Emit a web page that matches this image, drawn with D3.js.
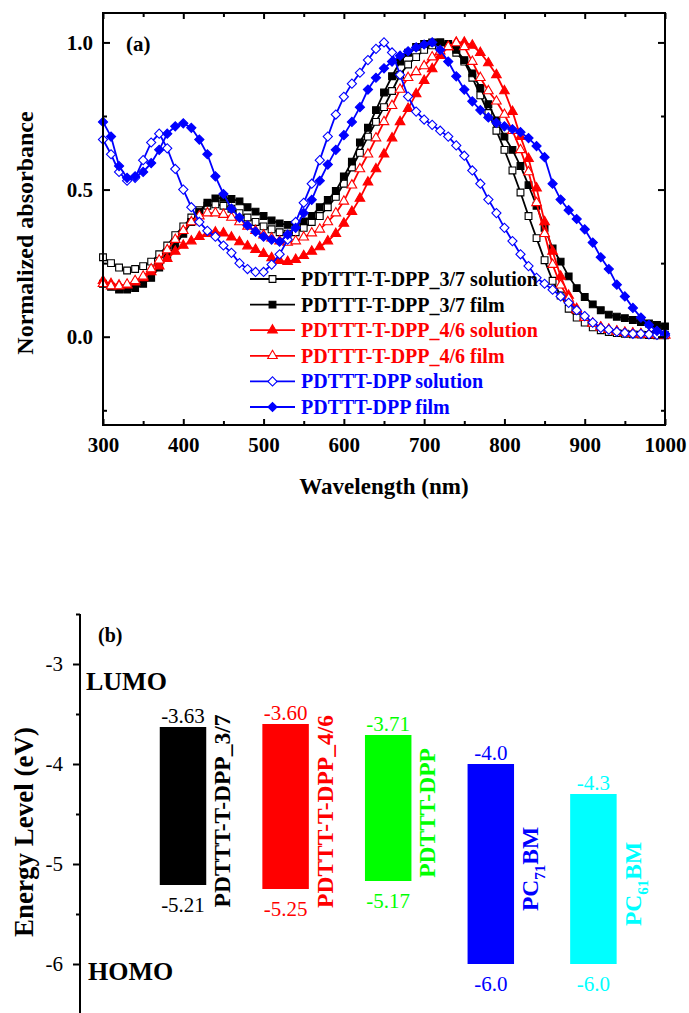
<!DOCTYPE html>
<html>
<head>
<meta charset="utf-8">
<script src="https://cdn.jsdelivr.net/npm/d3@7"></script>
<style>
  html, body { margin: 0; padding: 0; background: #fff; }
  svg { display: block; }
  text { font-family: "Liberation Serif", "Times New Roman", serif; }
</style>
</head>
<body>
<svg id="chart" width="689" height="1013"></svg>
<script>
// ---------------- DATA: panel (a) ----------------
const wavelengths = d3.range(300, 1001, 10);

const blackSolution = [0.27,0.25,0.235,0.225,0.23,0.24,0.255,0.28,0.31,0.345,
  0.375,0.405,0.43,0.445,0.45,0.445,0.435,0.42,0.405,0.39,
  0.375,0.365,0.355,0.35,0.355,0.37,0.39,0.41,0.44,0.475,
  0.52,0.575,0.625,0.68,0.73,0.78,0.835,0.89,0.925,0.95,
  0.975,0.99,1.0,0.99,0.965,0.935,0.88,0.82,0.76,0.70,
  0.635,0.565,0.49,0.41,0.335,0.26,0.19,0.14,0.095,0.065,
  0.048,0.032,0.022,0.016,0.012,0.01,0.008,0.007,0.006,0.005,0.005];

const blackFilm = [0.18,0.17,0.16,0.16,0.165,0.18,0.20,0.235,0.27,0.31,
  0.35,0.39,0.425,0.455,0.47,0.472,0.468,0.46,0.44,0.425,
  0.41,0.395,0.385,0.38,0.383,0.392,0.41,0.44,0.465,0.495,
  0.545,0.595,0.66,0.71,0.77,0.83,0.885,0.935,0.965,0.985,
  0.995,1.0,1.0,0.995,0.975,0.94,0.895,0.845,0.79,0.735,
  0.68,0.635,0.58,0.515,0.445,0.37,0.30,0.255,0.205,0.165,
  0.135,0.11,0.09,0.075,0.068,0.063,0.057,0.05,0.045,0.04,0.035];

const redSolution = [0.19,0.18,0.175,0.175,0.185,0.20,0.22,0.24,0.265,0.29,
  0.31,0.325,0.34,0.35,0.355,0.352,0.338,0.322,0.308,0.296,
  0.282,0.268,0.258,0.255,0.262,0.275,0.29,0.305,0.325,0.35,
  0.385,0.425,0.47,0.525,0.57,0.62,0.675,0.73,0.775,0.825,
  0.87,0.91,0.955,0.985,1.0,1.0,0.99,0.965,0.93,0.89,
  0.835,0.765,0.68,0.605,0.505,0.39,0.29,0.205,0.14,0.095,
  0.065,0.045,0.032,0.024,0.018,0.014,0.011,0.009,0.007,0.006,0.005];

const redFilm = [0.18,0.172,0.172,0.178,0.19,0.205,0.23,0.26,0.295,0.33,
  0.36,0.39,0.41,0.42,0.42,0.415,0.405,0.39,0.375,0.36,
  0.345,0.335,0.325,0.32,0.325,0.338,0.352,0.365,0.39,0.42,
  0.46,0.515,0.57,0.62,0.675,0.73,0.785,0.84,0.88,0.90,
  0.92,0.95,0.97,0.985,0.998,0.985,0.935,0.88,0.835,0.80,
  0.755,0.70,0.635,0.56,0.455,0.35,0.245,0.175,0.13,0.09,
  0.065,0.045,0.032,0.024,0.018,0.014,0.011,0.009,0.007,0.006,0.005];

const blueSolution = [0.67,0.62,0.56,0.53,0.54,0.60,0.66,0.69,0.64,0.57,
  0.50,0.44,0.39,0.36,0.34,0.31,0.285,0.25,0.23,0.22,
  0.22,0.245,0.28,0.33,0.39,0.455,0.52,0.60,0.68,0.755,
  0.815,0.86,0.897,0.94,0.978,1.0,0.966,0.89,0.816,0.765,
  0.738,0.72,0.70,0.68,0.65,0.615,0.565,0.52,0.466,0.42,
  0.37,0.325,0.28,0.24,0.20,0.18,0.16,0.137,0.115,0.09,
  0.07,0.048,0.03,0.024,0.017,0.013,0.01,0.01,0.008,0.006,0.005];

const blueFilm = [0.73,0.68,0.58,0.54,0.545,0.56,0.59,0.635,0.69,0.715,
  0.725,0.71,0.67,0.62,0.545,0.485,0.435,0.405,0.378,0.357,
  0.34,0.33,0.323,0.347,0.37,0.42,0.465,0.53,0.585,0.635,
  0.685,0.73,0.78,0.84,0.88,0.912,0.935,0.955,0.97,0.983,
  0.993,1.0,0.975,0.935,0.885,0.84,0.80,0.77,0.745,0.727,
  0.715,0.705,0.695,0.675,0.648,0.61,0.52,0.466,0.43,0.40,
  0.365,0.32,0.27,0.23,0.177,0.137,0.098,0.065,0.04,0.02,0.01];

const seriesNames = ["PDTTT-T-DPP_3/7 solution","PDTTT-T-DPP_3/7 film",
  "PDTTT-T-DPP_4/6 solution","PDTTT-T-DPP_4/6 film",
  "PDTTT-DPP solution","PDTTT-DPP film"];
const seriesValues = [blackSolution, blackFilm, redSolution, redFilm, blueSolution, blueFilm];
const seriesColors = ["#000000","#000000","#ff0000","#ff0000","#0000ff","#0000ff"];
const seriesMarkers = ["square","square","triangle","triangle","diamond","diamond"];
const seriesFilled = [false,true,true,false,false,true];

const xTicksA = [300,400,500,600,700,800,900,1000];
const yTicksA = [0.0,0.5,1.0];

// ---------------- DATA: panel (b) ----------------
const materials = ["PDTTT-T-DPP_3/7","PDTTT-T-DPP_4/6","PDTTT-DPP","PC71BM","PC61BM"];
const lumo = [-3.63,-3.60,-3.71,-4.0,-4.3];
const homo = [-5.21,-5.25,-5.17,-6.0,-6.0];
const lumoLabels = ["-3.63","-3.60","-3.71","-4.0","-4.3"];
const homoLabels = ["-5.21","-5.25","-5.17","-6.0","-6.0"];
const materialColors = ["#000000","#ff0000","#00ff00","#0000ff","#00ffff"];
// name pieces: [text, isSubscript]
const materialNameParts = [
  [["PDTTT-T-DPP_3/7",false]],
  [["PDTTT-T-DPP_4/6",false]],
  [["PDTTT-DPP",false]],
  [["PC",false],["71",true],["BM",false]],
  [["PC",false],["61",true],["BM",false]]
];
const yTicksB = [-6,-5,-4,-3];

// ---------------- DRAW ----------------
const svg = d3.select("#chart");
const serif = '"Liberation Serif", "Times New Roman", serif';

// ===== Panel (a) =====
const L = 103, R = 665, T = 13, B = 425;
const x = d3.scaleLinear().domain([300,1000]).range([L,R]);
const y = d3.scaleLinear().domain([-0.3,1.1]).range([B,T]);

const gA = svg.append("g");

function markerPath(kind){
  if (kind === "square") return d3.symbol().type(d3.symbolSquare).size(46)();
  if (kind === "triangle") return d3.symbol().type(d3.symbolTriangle).size(40)();
  return d3.symbol().type(d3.symbolSquare).size(42)();
}

const line = d3.line().x((d,i)=>x(wavelengths[i])).y(d=>y(d));

seriesValues.forEach((vals, si) => {
  const g = gA.append("g");
  g.append("path").datum(vals)
    .attr("d", line)
    .attr("fill","none")
    .attr("stroke", seriesColors[si])
    .attr("stroke-width", 1.8);
  g.selectAll("path.m").data(vals).join("path")
    .attr("class","m")
    .attr("d", markerPath(seriesMarkers[si]))
    .attr("transform", (d,i) => `translate(${x(wavelengths[i])},${y(d)})` + (seriesMarkers[si]==="diamond" ? " rotate(45)" : ""))
    .attr("fill", seriesFilled[si] ? seriesColors[si] : "#fff")
    .attr("stroke", seriesColors[si])
    .attr("stroke-width", 1.1);
});

// frame
gA.append("rect").attr("x",L).attr("y",T).attr("width",R-L).attr("height",B-T)
  .attr("fill","none").attr("stroke","#000").attr("stroke-width",2);

const minorX = d3.range(350,1000,100);
const minorY = [-0.25,0.25,0.75];

function styleAxis(g, fontSize){
  g.select(".domain").remove();
  g.selectAll(".tick line").attr("stroke","#000").attr("stroke-width",2);
  g.selectAll("text").attr("font-family",serif).attr("font-size",fontSize)
    .attr("font-weight","bold").attr("fill","#000");
}

// bottom
gA.append("g").attr("transform",`translate(0,${B})`)
  .call(d3.axisBottom(x).tickValues(xTicksA).tickSize(-6).tickPadding(12).tickFormat(d=>String(d)))
  .call(g=>styleAxis(g,21));
gA.append("g").attr("transform",`translate(0,${B})`)
  .call(d3.axisBottom(x).tickValues(minorX).tickSize(-4).tickFormat(""))
  .call(g=>styleAxis(g,21));
// top
gA.append("g").attr("transform",`translate(0,${T})`)
  .call(d3.axisTop(x).tickValues(xTicksA).tickSize(-6).tickFormat(""))
  .call(g=>styleAxis(g,21));
gA.append("g").attr("transform",`translate(0,${T})`)
  .call(d3.axisTop(x).tickValues(minorX).tickSize(-4).tickFormat(""))
  .call(g=>styleAxis(g,21));
// left
gA.append("g").attr("transform",`translate(${L},0)`)
  .call(d3.axisLeft(y).tickValues(yTicksA).tickSize(-7).tickPadding(10).tickFormat(d=>d.toFixed(1)))
  .call(g=>styleAxis(g,21));
gA.append("g").attr("transform",`translate(${L},0)`)
  .call(d3.axisLeft(y).tickValues(minorY).tickSize(-4).tickFormat(""))
  .call(g=>styleAxis(g,21));
// right
gA.append("g").attr("transform",`translate(${R},0)`)
  .call(d3.axisRight(y).tickValues(yTicksA).tickSize(-7).tickFormat(""))
  .call(g=>styleAxis(g,21));
gA.append("g").attr("transform",`translate(${R},0)`)
  .call(d3.axisRight(y).tickValues(minorY).tickSize(-4).tickFormat(""))
  .call(g=>styleAxis(g,21));

// titles
gA.append("text").attr("x",(L+R)/2).attr("y",494).attr("text-anchor","middle")
  .attr("font-family",serif).attr("font-size",23).attr("font-weight","bold").text("Wavelength (nm)");
gA.append("text").attr("transform","translate(33,233) rotate(-90)").attr("text-anchor","middle")
  .attr("font-family",serif).attr("font-size",24).attr("font-weight","bold").text("Normalized absorbance");
gA.append("text").attr("x",126).attr("y",51)
  .attr("font-family",serif).attr("font-size",21).attr("font-weight","bold").text("(a)");

// legend
const legY0 = 279, legDy = 25.6;
seriesNames.forEach((name, si) => {
  const yy = legY0 + si*legDy;
  const g = gA.append("g");
  g.append("line").attr("x1",250).attr("x2",295).attr("y1",yy).attr("y2",yy)
    .attr("stroke",seriesColors[si]).attr("stroke-width",1.8);
  g.append("path").attr("d",markerPath(seriesMarkers[si]))
    .attr("transform",`translate(272.5,${yy})` + (seriesMarkers[si]==="diamond" ? " rotate(45)" : ""))
    .attr("fill", seriesFilled[si] ? seriesColors[si] : "#fff")
    .attr("stroke",seriesColors[si]).attr("stroke-width",1.1);
  g.append("text").attr("x",301).attr("y",yy+7)
    .attr("font-family",serif).attr("font-size",20).attr("font-weight","bold")
    .attr("fill",seriesColors[si]).text(name);
});

// ===== Panel (b) =====
const AX = 80;
const yE = d3.scaleLinear().domain([-6.5,-2.5]).range([1014,614]);
const xE = d3.scaleBand().domain(materials).range([131.7,644.7]).paddingInner(0.547).paddingOuter(0.2735);

const gB = svg.append("g");
gB.append("line").attr("x1",AX).attr("x2",AX).attr("y1",yE(-2.5)).attr("y2",yE(-6.5))
  .attr("stroke","#000").attr("stroke-width",2);
gB.append("g").attr("transform",`translate(${AX},0)`)
  .call(d3.axisLeft(yE).tickValues(yTicksB).tickSize(7).tickPadding(10).tickFormat(d=>String(d)))
  .call(g=>{ g.select(".domain").remove();
    g.selectAll(".tick line").attr("stroke","#000").attr("stroke-width",2);
    g.selectAll("text").attr("font-family",serif).attr("font-size",21).attr("fill","#000"); });
gB.append("g").attr("transform",`translate(${AX},0)`)
  .call(d3.axisLeft(yE).tickValues([-6.5,-5.5,-4.5,-3.5,-2.5]).tickSize(4).tickFormat(""))
  .call(g=>{ g.select(".domain").remove();
    g.selectAll(".tick line").attr("stroke","#000").attr("stroke-width",2); });

// bars
gB.selectAll("rect.bar").data(materials).join("rect").attr("class","bar")
  .attr("x", d=>xE(d)).attr("width", xE.bandwidth())
  .attr("y", (d,i)=>yE(lumo[i])).attr("height",(d,i)=>yE(homo[i])-yE(lumo[i]))
  .attr("fill",(d,i)=>materialColors[i]);

// value labels
gB.selectAll("text.lumo").data(materials).join("text").attr("class","lumo")
  .attr("x", d=>xE(d)+xE.bandwidth()/2).attr("y",(d,i)=>yE(lumo[i])-4)
  .attr("text-anchor","middle").attr("font-family",serif).attr("font-size",21)
  .attr("fill",(d,i)=>materialColors[i]).text((d,i)=>lumoLabels[i]);
gB.selectAll("text.homo").data(materials).join("text").attr("class","homo")
  .attr("x", d=>xE(d)+xE.bandwidth()/2).attr("y",(d,i)=>yE(homo[i])+27)
  .attr("text-anchor","middle").attr("font-family",serif).attr("font-size",21)
  .attr("fill",(d,i)=>materialColors[i]).text((d,i)=>homoLabels[i]);

// rotated names
materials.forEach((m,i)=>{
  const cx = xE(m) + xE.bandwidth() + 24;
  const cy = (yE(lumo[i]) + yE(homo[i]))/2 + 5;
  const t = gB.append("text").attr("transform",`translate(${cx},${cy}) rotate(-90)`)
    .attr("text-anchor","middle").attr("font-family",serif).attr("font-size",23.5)
    .attr("font-weight","bold").attr("fill",materialColors[i]);
  let shifted = false;
  materialNameParts[i].forEach(([txt,sub])=>{
    const ts = t.append("tspan").text(txt);
    if (sub) { ts.attr("font-size",15).attr("dy",7); shifted = true; }
    else if (shifted) { ts.attr("dy",-7); shifted = false; }
  });
});

// texts
gB.append("text").attr("x",98).attr("y",642).attr("font-family",serif).attr("font-size",20)
  .attr("font-weight","bold").text("(b)");
gB.append("text").attr("x",86).attr("y",690).attr("font-family",serif).attr("font-size",26)
  .attr("font-weight","bold").text("LUMO");
gB.append("text").attr("x",88).attr("y",980).attr("font-family",serif).attr("font-size",26)
  .attr("font-weight","bold").text("HOMO");
gB.append("text").attr("transform","translate(33,832) rotate(-90)").attr("text-anchor","middle")
  .attr("font-family",serif).attr("font-size",27).attr("font-weight","bold").text("Energy Level (eV)");
</script>
</body>
</html>
